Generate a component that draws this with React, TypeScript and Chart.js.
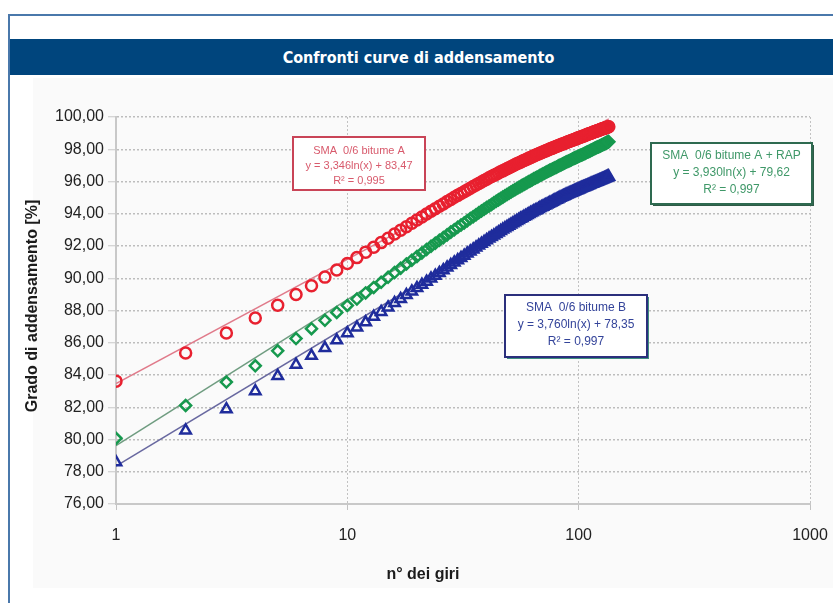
import React, { useEffect, useRef } from 'react';
import { Chart, registerables } from 'chart.js';

Chart.register(...registerables);

// n° dei giri (gyratory turns) 1..135
const turns: number[] = Array.from({ length: 135 }, (_, i) => i + 1);

// SMA 0/6 bitume A (red circles)
const bitumeA: number[] = [
  83.62, 85.36, 86.60, 87.53, 88.33, 88.99, 89.54, 90.07, 90.51, 90.91,
  91.28, 91.62, 91.92, 92.21, 92.48, 92.74, 92.98, 93.20, 93.41, 93.61,
  93.80, 93.98, 94.15, 94.31, 94.47, 94.61, 94.76, 94.89, 95.02, 95.14,
  95.26, 95.37, 95.48, 95.58, 95.69, 95.78, 95.88, 95.97, 96.06, 96.14,
  96.23, 96.31, 96.38, 96.45, 96.53, 96.60, 96.66, 96.73, 96.79, 96.86,
  96.92, 96.98, 97.04, 97.10, 97.15, 97.20, 97.25, 97.31, 97.35, 97.40,
  97.45, 97.49, 97.54, 97.59, 97.63, 97.67, 97.71, 97.75, 97.79, 97.83,
  97.86, 97.90, 97.94, 97.97, 98.01, 98.04, 98.07, 98.11, 98.14, 98.17,
  98.20, 98.24, 98.26, 98.29, 98.32, 98.34, 98.37, 98.40, 98.43, 98.46,
  98.48, 98.51, 98.54, 98.56, 98.59, 98.61, 98.64, 98.66, 98.69, 98.71,
  98.73, 98.76, 98.78, 98.80, 98.82, 98.84, 98.87, 98.90, 98.92, 98.94,
  98.96, 98.98, 99.00, 99.02, 99.04, 99.07, 99.08, 99.10, 99.12, 99.14,
  99.16, 99.17, 99.20, 99.22, 99.24, 99.25, 99.27, 99.28, 99.30, 99.32,
  99.33, 99.35, 99.37, 99.39, 99.40,
];

// SMA 0/6 bitume A + RAP (green diamonds)
const bitumeARap: number[] = [
  80.07, 82.11, 83.56, 84.57, 85.50, 86.26, 86.87, 87.39, 87.88, 88.31,
  88.71, 89.09, 89.43, 89.75, 90.06, 90.35, 90.62, 90.88, 91.12, 91.35,
  91.57, 91.78, 91.98, 92.17, 92.35, 92.52, 92.69, 92.86, 93.01, 93.16,
  93.30, 93.43, 93.57, 93.70, 93.82, 93.94, 94.06, 94.17, 94.28, 94.39,
  94.48, 94.58, 94.68, 94.77, 94.86, 94.95, 95.03, 95.11, 95.20, 95.27,
  95.35, 95.42, 95.49, 95.56, 95.63, 95.69, 95.76, 95.82, 95.88, 95.94,
  96.00, 96.05, 96.11, 96.17, 96.22, 96.27, 96.31, 96.37, 96.42, 96.47,
  96.51, 96.56, 96.60, 96.65, 96.69, 96.73, 96.77, 96.81, 96.85, 96.89,
  96.93, 96.97, 97.01, 97.04, 97.08, 97.12, 97.15, 97.19, 97.22, 97.25,
  97.29, 97.32, 97.35, 97.39, 97.42, 97.45, 97.48, 97.51, 97.54, 97.57,
  97.60, 97.63, 97.65, 97.68, 97.71, 97.74, 97.76, 97.80, 97.83, 97.85,
  97.88, 97.90, 97.94, 97.96, 97.99, 98.01, 98.04, 98.07, 98.09, 98.12,
  98.14, 98.16, 98.19, 98.21, 98.23, 98.26, 98.28, 98.31, 98.33, 98.35,
  98.37, 98.40, 98.42, 98.45, 98.47,
];

// SMA 0/6 bitume B (blue triangles)
const bitumeB: number[] = [
  78.59, 80.56, 81.88, 83.00, 83.94, 84.64, 85.19, 85.67, 86.15, 86.59,
  86.95, 87.27, 87.61, 87.91, 88.19, 88.46, 88.71, 88.96, 89.18, 89.39,
  89.60, 89.79, 89.98, 90.16, 90.33, 90.50, 90.66, 90.82, 90.97, 91.12,
  91.26, 91.40, 91.53, 91.66, 91.79, 91.91, 92.03, 92.14, 92.25, 92.36,
  92.46, 92.56, 92.65, 92.75, 92.84, 92.93, 93.02, 93.10, 93.18, 93.26,
  93.33, 93.41, 93.48, 93.55, 93.62, 93.69, 93.74, 93.81, 93.86, 93.93,
  93.98, 94.04, 94.09, 94.15, 94.20, 94.24, 94.30, 94.35, 94.40, 94.44,
  94.49, 94.53, 94.58, 94.62, 94.66, 94.70, 94.74, 94.79, 94.83, 94.87,
  94.90, 94.94, 94.99, 95.02, 95.06, 95.09, 95.12, 95.16, 95.19, 95.22,
  95.25, 95.28, 95.31, 95.34, 95.37, 95.40, 95.43, 95.45, 95.48, 95.51,
  95.53, 95.56, 95.59, 95.61, 95.64, 95.66, 95.69, 95.71, 95.74, 95.76,
  95.79, 95.81, 95.84, 95.86, 95.88, 95.90, 95.93, 95.95, 95.97, 95.99,
  96.01, 96.03, 96.06, 96.08, 96.10, 96.12, 96.14, 96.16, 96.18, 96.20,
  96.22, 96.24, 96.26, 96.28, 96.29,
];

// Logarithmic trend lines (straight on a log x axis): end points at turn 1 and 135
const trendTurns: number[] = [1, 135];
const trendA: number[] = [83.47, 99.88];
const trendARap: number[] = [79.62, 98.9];
const trendB: number[] = [78.35, 96.79];

const xTicks: number[] = [1, 10, 100, 1000];
const yTicks: number[] = [76, 78, 80, 82, 84, 86, 88, 90, 92, 94, 96, 98, 100];

const chartTitle = 'Confronti curve di addensamento';
const xTitle = 'n° dei giri';
const yTitle = 'Grado di addensamento [%]';

const boxA = ['SMA  0/6 bitume A', 'y = 3,346ln(x) + 83,47', 'R² = 0,995'];
const boxARap = ['SMA  0/6 bitume A + RAP', 'y = 3,930ln(x) + 79,62', 'R² = 0,997'];
const boxB = ['SMA  0/6 bitume B', 'y = 3,760ln(x) + 78,35', 'R² = 0,997'];

const SANS = '"Liberation Sans", Arial, sans-serif';

const boxes = [
  { lines: boxA, x: 293, y: 137, w: 132, h: 53, border: '#c94457', text: '#d85a6c', shadow: '', font: 11, lineY: [151, 166, 181] },
  { lines: boxARap, x: 651, y: 143, w: 161, h: 61, border: '#2e6a50', text: '#3f9868', shadow: '#2e5a46', font: 12, lineY: [156, 173, 190] },
  { lines: boxB, x: 505, y: 295, w: 142, h: 62, border: '#2b2f7c', text: '#34449a', shadow: '#3f8f80', font: 12, lineY: [308, 325, 342] },
];

const overlayPlugin = {
  id: 'overlay',
  afterDraw(chart: any) {
    const ctx = chart.ctx as CanvasRenderingContext2D;
    ctx.save();
    ctx.fillStyle = '#1b1b1b';
    ctx.font = `bold 16px ${SANS}`;
    ctx.textAlign = 'center';
    ctx.textBaseline = 'middle';
    ctx.fillText(xTitle, 423, 575);
    ctx.save();
    ctx.translate(33, 306);
    ctx.rotate(-Math.PI / 2);
    ctx.fillText(yTitle, 0, 0);
    ctx.restore();

    for (const b of boxes) {
      if (b.shadow) {
        ctx.fillStyle = b.shadow;
        ctx.fillRect(b.x + 2, b.y + 2, b.w, b.h);
      }
      ctx.fillStyle = '#ffffff';
      ctx.fillRect(b.x, b.y, b.w, b.h);
      ctx.strokeStyle = b.border;
      ctx.lineWidth = 2;
      ctx.strokeRect(b.x, b.y, b.w, b.h);
      ctx.fillStyle = b.text;
      ctx.font = `${b.font}px ${SANS}`;
      b.lines.forEach((t, i) => ctx.fillText(t, b.x + b.w / 2, b.lineY[i]));
    }
    ctx.restore();
  },
};

export default function App() {
  const ref = useRef<HTMLCanvasElement | null>(null);

  useEffect(() => {
    if (!ref.current) return;
    const pts = (ys: number[]) => turns.map((t, i) => ({ x: t, y: ys[i] }));
    const trend = (ys: number[]) => trendTurns.map((t, i) => ({ x: t, y: ys[i] }));
    const chart = new Chart(ref.current, {
      type: 'scatter',
      data: {
        datasets: [
          {
            label: 'SMA 0/6 bitume A',
            data: pts(bitumeA),
            showLine: false,
            pointStyle: 'circle',
            pointRadius: 5.5,
            pointBorderWidth: 2.5,
            pointBorderColor: '#e8202f',
            pointBackgroundColor: 'rgba(255,255,255,0)',
          },
          {
            label: 'SMA 0/6 bitume A + RAP',
            data: pts(bitumeARap),
            showLine: false,
            pointStyle: 'rectRot',
            pointRadius: 5.5,
            pointBorderWidth: 2.5,
            pointBorderColor: '#16994e',
            pointBackgroundColor: 'rgba(255,255,255,0)',
          },
          {
            label: 'SMA 0/6 bitume B',
            data: pts(bitumeB),
            showLine: false,
            pointStyle: 'triangle',
            pointRadius: 6,
            pointBorderWidth: 2.5,
            pointBorderColor: '#1f2c9c',
            pointBackgroundColor: 'rgba(255,255,255,0)',
          },
          {
            label: 'trend A',
            data: trend(trendA),
            showLine: true,
            pointRadius: 0,
            borderColor: '#e07a8a',
            borderWidth: 1.5,
          },
          {
            label: 'trend A + RAP',
            data: trend(trendARap),
            showLine: true,
            pointRadius: 0,
            borderColor: '#6f9c80',
            borderWidth: 1.5,
          },
          {
            label: 'trend B',
            data: trend(trendB),
            showLine: true,
            pointRadius: 0,
            borderColor: '#6868a0',
            borderWidth: 1.5,
          },
        ],
      },
      options: {
        animation: false,
        responsive: false,
        maintainAspectRatio: false,
        devicePixelRatio: 1,
        layout: { padding: { left: 0, top: 117, right: 23, bottom: 0 } },
        plugins: { legend: { display: false }, tooltip: { enabled: false } },
        scales: {
          x: {
            type: 'logarithmic',
            min: 1,
            max: 1000,
            afterBuildTicks: (s: any) => {
              s.ticks = xTicks.map((v) => ({ value: v }));
            },
            afterFit: (s: any) => {
              s.height = 99;
              s.paddingRight = 0;
              s.paddingLeft = 0;
            },
            ticks: {
              autoSkip: false,
              maxRotation: 0,
              padding: 16,
              color: '#222',
              font: { family: SANS, size: 16 },
              callback: (v: any) => String(v),
            },
            grid: { color: '#c2c2c2', lineWidth: 1, tickLength: 6, tickBorderDash: [] },
            border: { display: true, color: '#c8c8c8', width: 2, dash: [2, 2] },
          },
          y: {
            min: 76,
            max: 100,
            afterBuildTicks: (s: any) => {
              s.ticks = yTicks.map((v) => ({ value: v }));
            },
            afterFit: (s: any) => {
              s.width = 116;
            },
            ticks: {
              padding: 4,
              color: '#222',
              font: { family: SANS, size: 16 },
              callback: (v: any) => Number(v).toFixed(2).replace('.', ','),
            },
            grid: { color: '#bdbdbd', lineWidth: 1.5, tickLength: 8, tickBorderDash: [], tickColor: '#c8c8c8', tickWidth: 1 },
            border: { display: true, color: '#c8c8c8', width: 2, dash: [2, 2] },
          },
        },
      },
      plugins: [overlayPlugin],
    } as any);
    return () => chart.destroy();
  }, []);

  return (
    <div style={{ position: 'fixed', left: 0, top: 0, width: 833, height: 603, overflow: 'hidden', background: '#ffffff' }}>
      <div
        style={{
          position: 'absolute', left: 8, top: 14, width: 840, height: 600,
          borderLeft: '2px solid #4a78ab', borderTop: '2px solid #4a78ab',
        }}
      />
      <div style={{ position: 'absolute', left: 33, top: 78, width: 800, height: 510, background: '#fafafa' }} />
      <div
        style={{
          position: 'absolute', left: 10, top: 39, width: 823, height: 36, background: '#00457d',
          color: '#ffffff', display: 'flex', alignItems: 'center', justifyContent: 'center',
          fontFamily: '"Liberation Sans Narrow", "DejaVu Sans Condensed", "Liberation Sans", sans-serif',
          fontWeight: 'bold', fontSize: 16, paddingRight: 6, boxSizing: 'border-box',
        }}
      >
        {chartTitle}
      </div>
      <canvas ref={ref} width={833} height={603} style={{ position: 'absolute', left: 0, top: 0, width: 833, height: 603 }} />
    </div>
  );
}
